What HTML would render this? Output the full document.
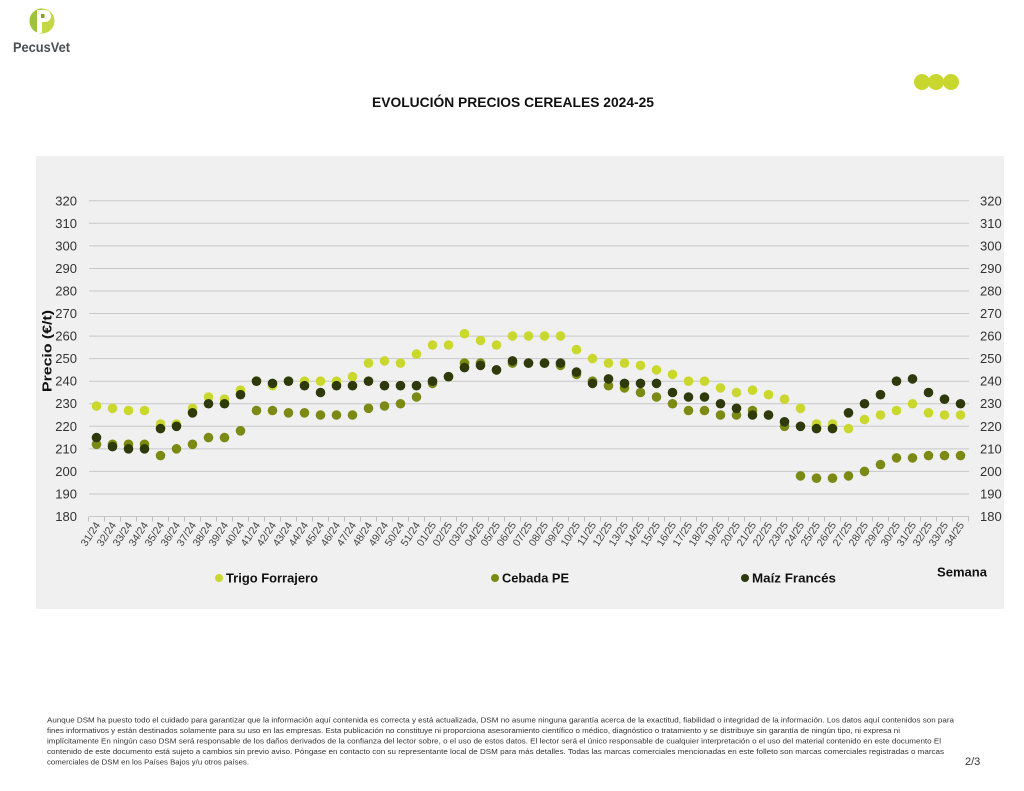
<!DOCTYPE html>
<html><head><meta charset="utf-8"><style>
html,body{margin:0;padding:0;background:#fff;}
svg{display:block;}
text{font-family:"Liberation Sans",sans-serif;}
</style></head><body>
<svg width="1024" height="791" viewBox="0 0 1024 791" xmlns="http://www.w3.org/2000/svg">
<rect x="0" y="0" width="1024" height="791" fill="#fff"/>
<!-- logo -->
<circle cx="42" cy="21" r="12.5" fill="#c3d843"/>
<path d="M42 8.5 A12.5 12.5 0 0 0 42 33.5 Z" fill="#9dc33a"/>
<rect x="37" y="10" width="5" height="23" fill="#fff"/>
<path d="M37 10 H45 A6 6 0 0 1 45 22 H37 Z" fill="#fff"/>
<rect x="41" y="14" width="3.5" height="4" fill="#7fa52a"/>
<text x="13" y="52" font-size="14" font-weight="bold" fill="#4a4f55" textLength="57" lengthAdjust="spacingAndGlyphs">PecusVet</text>
<!-- top right dots -->
<circle cx="922" cy="82" r="8" fill="#c9d62e"/>
<circle cx="936" cy="82" r="8" fill="#c9d62e"/>
<circle cx="951" cy="82" r="8" fill="#c9d62e"/>
<!-- title -->
<text x="372" y="107" font-size="13.5" font-weight="bold" fill="#111" textLength="282" lengthAdjust="spacingAndGlyphs">EVOLUCIÓN PRECIOS CEREALES 2024-25</text>
<!-- panel -->
<rect x="36" y="156" width="968" height="453" fill="#f0f0f0"/>
<!-- grid -->
<g stroke="#c8c8c8" stroke-width="1">
<line x1="89" y1="200.8" x2="969" y2="200.8"/>
<line x1="89" y1="223.3" x2="969" y2="223.3"/>
<line x1="89" y1="245.9" x2="969" y2="245.9"/>
<line x1="89" y1="268.5" x2="969" y2="268.5"/>
<line x1="89" y1="291.0" x2="969" y2="291.0"/>
<line x1="89" y1="313.5" x2="969" y2="313.5"/>
<line x1="89" y1="336.1" x2="969" y2="336.1"/>
<line x1="89" y1="358.6" x2="969" y2="358.6"/>
<line x1="89" y1="381.2" x2="969" y2="381.2"/>
<line x1="89" y1="403.75" x2="969" y2="403.75"/>
<line x1="89" y1="426.3" x2="969" y2="426.3"/>
<line x1="89" y1="448.85" x2="969" y2="448.85"/>
<line x1="89" y1="471.4" x2="969" y2="471.4"/>
<line x1="89" y1="494" x2="969" y2="494"/>
<line x1="89" y1="516.5" x2="969" y2="516.5"/>
</g>
<!-- ticks -->
<g stroke="#c0c0c0" stroke-width="1">
<path d="M88.5 516.5v5M104.5 516.5v5M120.5 516.5v5M136.5 516.5v5M152.5 516.5v5M168.5 516.5v5M184.5 516.5v5M200.5 516.5v5M216.5 516.5v5M232.5 516.5v5M248.5 516.5v5M264.5 516.5v5M280.5 516.5v5M296.5 516.5v5M312.5 516.5v5M328.5 516.5v5M344.5 516.5v5M360.5 516.5v5M376.5 516.5v5M392.5 516.5v5M408.5 516.5v5M424.5 516.5v5M440.5 516.5v5M456.5 516.5v5M472.5 516.5v5M488.5 516.5v5M504.5 516.5v5M520.5 516.5v5M536.5 516.5v5M552.5 516.5v5M568.5 516.5v5M584.5 516.5v5M600.5 516.5v5M616.5 516.5v5M632.5 516.5v5M648.5 516.5v5M664.5 516.5v5M680.5 516.5v5M696.5 516.5v5M712.5 516.5v5M728.5 516.5v5M744.5 516.5v5M760.5 516.5v5M776.5 516.5v5M792.5 516.5v5M808.5 516.5v5M824.5 516.5v5M840.5 516.5v5M856.5 516.5v5M872.5 516.5v5M888.5 516.5v5M904.5 516.5v5M920.5 516.5v5M936.5 516.5v5M952.5 516.5v5M968.5 516.5v5"/>
</g>
<!-- y labels left -->
<g font-size="13" fill="#333" text-anchor="end">
<text x="77" y="205.3">320</text>
<text x="77" y="227.8">310</text>
<text x="77" y="250.4">300</text>
<text x="77" y="273">290</text>
<text x="77" y="295.5">280</text>
<text x="77" y="318">270</text>
<text x="77" y="340.6">260</text>
<text x="77" y="363.1">250</text>
<text x="77" y="385.7">240</text>
<text x="77" y="408.2">230</text>
<text x="77" y="430.8">220</text>
<text x="77" y="453.3">210</text>
<text x="77" y="475.9">200</text>
<text x="77" y="498.5">190</text>
<text x="77" y="521">180</text>
</g>
<g font-size="13" fill="#333">
<text x="980" y="205.3">320</text>
<text x="980" y="227.8">310</text>
<text x="980" y="250.4">300</text>
<text x="980" y="273">290</text>
<text x="980" y="295.5">280</text>
<text x="980" y="318">270</text>
<text x="980" y="340.6">260</text>
<text x="980" y="363.1">250</text>
<text x="980" y="385.7">240</text>
<text x="980" y="408.2">230</text>
<text x="980" y="430.8">220</text>
<text x="980" y="453.3">210</text>
<text x="980" y="475.9">200</text>
<text x="980" y="498.5">190</text>
<text x="980" y="521">180</text>
</g>
<text transform="translate(51.5,351) rotate(-90)" font-size="13" font-weight="bold" fill="#111" text-anchor="middle" textLength="82" lengthAdjust="spacingAndGlyphs">Precio (€/t)</text>
<!-- x labels -->
<g font-size="10.5" fill="#444" text-anchor="end">
<text transform="translate(100.5,525) rotate(-57)">31/24</text>
<text transform="translate(116.5,525) rotate(-57)">32/24</text>
<text transform="translate(132.5,525) rotate(-57)">33/24</text>
<text transform="translate(148.5,525) rotate(-57)">34/24</text>
<text transform="translate(164.5,525) rotate(-57)">35/24</text>
<text transform="translate(180.5,525) rotate(-57)">36/24</text>
<text transform="translate(196.5,525) rotate(-57)">37/24</text>
<text transform="translate(212.5,525) rotate(-57)">38/24</text>
<text transform="translate(228.5,525) rotate(-57)">39/24</text>
<text transform="translate(244.5,525) rotate(-57)">40/24</text>
<text transform="translate(260.5,525) rotate(-57)">41/24</text>
<text transform="translate(276.5,525) rotate(-57)">42/24</text>
<text transform="translate(292.5,525) rotate(-57)">43/24</text>
<text transform="translate(308.5,525) rotate(-57)">44/24</text>
<text transform="translate(324.5,525) rotate(-57)">45/24</text>
<text transform="translate(340.5,525) rotate(-57)">46/24</text>
<text transform="translate(356.5,525) rotate(-57)">47/24</text>
<text transform="translate(372.5,525) rotate(-57)">48/24</text>
<text transform="translate(388.5,525) rotate(-57)">49/24</text>
<text transform="translate(404.5,525) rotate(-57)">50/24</text>
<text transform="translate(420.5,525) rotate(-57)">51/24</text>
<text transform="translate(436.5,525) rotate(-57)">01/25</text>
<text transform="translate(452.5,525) rotate(-57)">02/25</text>
<text transform="translate(468.5,525) rotate(-57)">03/25</text>
<text transform="translate(484.5,525) rotate(-57)">04/25</text>
<text transform="translate(500.5,525) rotate(-57)">05/25</text>
<text transform="translate(516.5,525) rotate(-57)">06/25</text>
<text transform="translate(532.5,525) rotate(-57)">07/25</text>
<text transform="translate(548.5,525) rotate(-57)">08/25</text>
<text transform="translate(564.5,525) rotate(-57)">09/25</text>
<text transform="translate(580.5,525) rotate(-57)">10/25</text>
<text transform="translate(596.5,525) rotate(-57)">11/25</text>
<text transform="translate(612.5,525) rotate(-57)">12/25</text>
<text transform="translate(628.5,525) rotate(-57)">13/25</text>
<text transform="translate(644.5,525) rotate(-57)">14/25</text>
<text transform="translate(660.5,525) rotate(-57)">15/25</text>
<text transform="translate(676.5,525) rotate(-57)">16/25</text>
<text transform="translate(692.5,525) rotate(-57)">17/25</text>
<text transform="translate(708.5,525) rotate(-57)">18/25</text>
<text transform="translate(724.5,525) rotate(-57)">19/25</text>
<text transform="translate(740.5,525) rotate(-57)">20/25</text>
<text transform="translate(756.5,525) rotate(-57)">21/25</text>
<text transform="translate(772.5,525) rotate(-57)">22/25</text>
<text transform="translate(788.5,525) rotate(-57)">23/25</text>
<text transform="translate(804.5,525) rotate(-57)">24/25</text>
<text transform="translate(820.5,525) rotate(-57)">25/25</text>
<text transform="translate(836.5,525) rotate(-57)">26/25</text>
<text transform="translate(852.5,525) rotate(-57)">27/25</text>
<text transform="translate(868.5,525) rotate(-57)">28/25</text>
<text transform="translate(884.5,525) rotate(-57)">29/25</text>
<text transform="translate(900.5,525) rotate(-57)">30/25</text>
<text transform="translate(916.5,525) rotate(-57)">31/25</text>
<text transform="translate(932.5,525) rotate(-57)">32/25</text>
<text transform="translate(948.5,525) rotate(-57)">33/25</text>
<text transform="translate(964.5,525) rotate(-57)">34/25</text>
</g>
<!-- Trigo Forrajero -->
<g fill="#c9d72f">
<circle cx="96.5" cy="406.0" r="4.8"/><circle cx="112.5" cy="408.3" r="4.8"/><circle cx="128.5" cy="410.5" r="4.8"/><circle cx="144.5" cy="410.5" r="4.8"/><circle cx="160.5" cy="424.0" r="4.8"/><circle cx="176.5" cy="424.0" r="4.8"/><circle cx="192.5" cy="408.3" r="4.8"/><circle cx="208.5" cy="397.0" r="4.8"/><circle cx="224.5" cy="399.2" r="4.8"/><circle cx="240.5" cy="390.2" r="4.8"/><circle cx="256.5" cy="381.2" r="4.8"/><circle cx="272.5" cy="385.7" r="4.8"/><circle cx="288.5" cy="381.2" r="4.8"/><circle cx="304.5" cy="381.2" r="4.8"/><circle cx="320.5" cy="381.2" r="4.8"/><circle cx="336.5" cy="381.2" r="4.8"/><circle cx="352.5" cy="376.7" r="4.8"/><circle cx="368.5" cy="363.1" r="4.8"/><circle cx="384.5" cy="360.9" r="4.8"/><circle cx="400.5" cy="363.1" r="4.8"/><circle cx="416.5" cy="354.1" r="4.8"/><circle cx="432.5" cy="345.0" r="4.8"/><circle cx="448.5" cy="345.0" r="4.8"/><circle cx="464.5" cy="333.7" r="4.8"/><circle cx="480.5" cy="340.5" r="4.8"/><circle cx="496.5" cy="345.0" r="4.8"/><circle cx="512.5" cy="336.0" r="4.8"/><circle cx="528.5" cy="336.0" r="4.8"/><circle cx="544.5" cy="336.0" r="4.8"/><circle cx="560.5" cy="336.0" r="4.8"/><circle cx="576.5" cy="349.6" r="4.8"/><circle cx="592.5" cy="358.6" r="4.8"/><circle cx="608.5" cy="363.1" r="4.8"/><circle cx="624.5" cy="363.1" r="4.8"/><circle cx="640.5" cy="365.4" r="4.8"/><circle cx="656.5" cy="369.9" r="4.8"/><circle cx="672.5" cy="374.4" r="4.8"/><circle cx="688.5" cy="381.2" r="4.8"/><circle cx="704.5" cy="381.2" r="4.8"/><circle cx="720.5" cy="387.9" r="4.8"/><circle cx="736.5" cy="392.5" r="4.8"/><circle cx="752.5" cy="390.2" r="4.8"/><circle cx="768.5" cy="394.7" r="4.8"/><circle cx="784.5" cy="399.2" r="4.8"/><circle cx="800.5" cy="408.3" r="4.8"/><circle cx="816.5" cy="424.0" r="4.8"/><circle cx="832.5" cy="424.0" r="4.8"/><circle cx="848.5" cy="428.6" r="4.8"/><circle cx="864.5" cy="419.5" r="4.8"/><circle cx="880.5" cy="415.0" r="4.8"/><circle cx="896.5" cy="410.5" r="4.8"/><circle cx="912.5" cy="403.75" r="4.8"/><circle cx="928.5" cy="412.8" r="4.8"/><circle cx="944.5" cy="415.0" r="4.8"/><circle cx="960.5" cy="415.0" r="4.8"/>
</g>
<!-- Cebada PE -->
<g fill="#7b8a12">
<circle cx="96.5" cy="444.3" r="4.8"/><circle cx="112.5" cy="444.3" r="4.8"/><circle cx="128.5" cy="444.3" r="4.8"/><circle cx="144.5" cy="444.3" r="4.8"/><circle cx="160.5" cy="455.6" r="4.8"/><circle cx="176.5" cy="448.85" r="4.8"/><circle cx="192.5" cy="444.3" r="4.8"/><circle cx="208.5" cy="437.6" r="4.8"/><circle cx="224.5" cy="437.6" r="4.8"/><circle cx="240.5" cy="430.8" r="4.8"/><circle cx="256.5" cy="410.5" r="4.8"/><circle cx="272.5" cy="410.5" r="4.8"/><circle cx="288.5" cy="412.8" r="4.8"/><circle cx="304.5" cy="412.8" r="4.8"/><circle cx="320.5" cy="415.0" r="4.8"/><circle cx="336.5" cy="415.0" r="4.8"/><circle cx="352.5" cy="415.0" r="4.8"/><circle cx="368.5" cy="408.3" r="4.8"/><circle cx="384.5" cy="406.0" r="4.8"/><circle cx="400.5" cy="403.75" r="4.8"/><circle cx="416.5" cy="397.0" r="4.8"/><circle cx="432.5" cy="383.4" r="4.8"/><circle cx="448.5" cy="376.7" r="4.8"/><circle cx="464.5" cy="363.1" r="4.8"/><circle cx="480.5" cy="363.1" r="4.8"/><circle cx="496.5" cy="369.9" r="4.8"/><circle cx="512.5" cy="363.1" r="4.8"/><circle cx="528.5" cy="363.1" r="4.8"/><circle cx="544.5" cy="363.1" r="4.8"/><circle cx="560.5" cy="365.4" r="4.8"/><circle cx="576.5" cy="374.4" r="4.8"/><circle cx="592.5" cy="381.2" r="4.8"/><circle cx="608.5" cy="385.7" r="4.8"/><circle cx="624.5" cy="387.9" r="4.8"/><circle cx="640.5" cy="392.5" r="4.8"/><circle cx="656.5" cy="397.0" r="4.8"/><circle cx="672.5" cy="403.75" r="4.8"/><circle cx="688.5" cy="410.5" r="4.8"/><circle cx="704.5" cy="410.5" r="4.8"/><circle cx="720.5" cy="415.0" r="4.8"/><circle cx="736.5" cy="415.0" r="4.8"/><circle cx="752.5" cy="410.5" r="4.8"/><circle cx="768.5" cy="415.0" r="4.8"/><circle cx="784.5" cy="426.3" r="4.8"/><circle cx="800.5" cy="475.9" r="4.8"/><circle cx="816.5" cy="478.2" r="4.8"/><circle cx="832.5" cy="478.2" r="4.8"/><circle cx="848.5" cy="475.9" r="4.8"/><circle cx="864.5" cy="471.4" r="4.8"/><circle cx="880.5" cy="464.6" r="4.8"/><circle cx="896.5" cy="457.9" r="4.8"/><circle cx="912.5" cy="457.9" r="4.8"/><circle cx="928.5" cy="455.6" r="4.8"/><circle cx="944.5" cy="455.6" r="4.8"/><circle cx="960.5" cy="455.6" r="4.8"/>
</g>
<!-- Maiz Frances -->
<g fill="#2e3a0c">
<circle cx="96.5" cy="437.6" r="4.8"/><circle cx="112.5" cy="446.6" r="4.8"/><circle cx="128.5" cy="448.85" r="4.8"/><circle cx="144.5" cy="448.85" r="4.8"/><circle cx="160.5" cy="428.6" r="4.8"/><circle cx="176.5" cy="426.3" r="4.8"/><circle cx="192.5" cy="412.8" r="4.8"/><circle cx="208.5" cy="403.75" r="4.8"/><circle cx="224.5" cy="403.75" r="4.8"/><circle cx="240.5" cy="394.7" r="4.8"/><circle cx="256.5" cy="381.2" r="4.8"/><circle cx="272.5" cy="383.4" r="4.8"/><circle cx="288.5" cy="381.2" r="4.8"/><circle cx="304.5" cy="385.7" r="4.8"/><circle cx="320.5" cy="392.5" r="4.8"/><circle cx="336.5" cy="385.7" r="4.8"/><circle cx="352.5" cy="385.7" r="4.8"/><circle cx="368.5" cy="381.2" r="4.8"/><circle cx="384.5" cy="385.7" r="4.8"/><circle cx="400.5" cy="385.7" r="4.8"/><circle cx="416.5" cy="385.7" r="4.8"/><circle cx="432.5" cy="381.2" r="4.8"/><circle cx="448.5" cy="376.7" r="4.8"/><circle cx="464.5" cy="367.6" r="4.8"/><circle cx="480.5" cy="365.4" r="4.8"/><circle cx="496.5" cy="369.9" r="4.8"/><circle cx="512.5" cy="360.9" r="4.8"/><circle cx="528.5" cy="363.1" r="4.8"/><circle cx="544.5" cy="363.1" r="4.8"/><circle cx="560.5" cy="363.1" r="4.8"/><circle cx="576.5" cy="372.1" r="4.8"/><circle cx="592.5" cy="383.4" r="4.8"/><circle cx="608.5" cy="378.9" r="4.8"/><circle cx="624.5" cy="383.4" r="4.8"/><circle cx="640.5" cy="383.4" r="4.8"/><circle cx="656.5" cy="383.4" r="4.8"/><circle cx="672.5" cy="392.5" r="4.8"/><circle cx="688.5" cy="397.0" r="4.8"/><circle cx="704.5" cy="397.0" r="4.8"/><circle cx="720.5" cy="403.75" r="4.8"/><circle cx="736.5" cy="408.3" r="4.8"/><circle cx="752.5" cy="415.0" r="4.8"/><circle cx="768.5" cy="415.0" r="4.8"/><circle cx="784.5" cy="421.8" r="4.8"/><circle cx="800.5" cy="426.3" r="4.8"/><circle cx="816.5" cy="428.6" r="4.8"/><circle cx="832.5" cy="428.6" r="4.8"/><circle cx="848.5" cy="412.8" r="4.8"/><circle cx="864.5" cy="403.75" r="4.8"/><circle cx="880.5" cy="394.7" r="4.8"/><circle cx="896.5" cy="381.2" r="4.8"/><circle cx="912.5" cy="378.9" r="4.8"/><circle cx="928.5" cy="392.5" r="4.8"/><circle cx="944.5" cy="399.2" r="4.8"/><circle cx="960.5" cy="403.75" r="4.8"/>
</g>
<!-- legend -->
<circle cx="219" cy="578" r="4" fill="#c9d72f"/>
<text x="226" y="582.5" font-size="13" font-weight="bold" fill="#111" textLength="92" lengthAdjust="spacingAndGlyphs">Trigo Forrajero</text>
<circle cx="495" cy="578" r="4" fill="#7b8a12"/>
<text x="502" y="582.5" font-size="13" font-weight="bold" fill="#111" textLength="67" lengthAdjust="spacingAndGlyphs">Cebada PE</text>
<circle cx="745" cy="578" r="4" fill="#2e3a0c"/>
<text x="752" y="582.5" font-size="13" font-weight="bold" fill="#111" textLength="84" lengthAdjust="spacingAndGlyphs">Maíz Francés</text>
<text x="937" y="576.5" font-size="13" font-weight="bold" fill="#111" textLength="50" lengthAdjust="spacingAndGlyphs">Semana</text>
<!-- footer -->
<g font-size="7.5" fill="#333">
<text x="47" y="722.5" textLength="907" lengthAdjust="spacingAndGlyphs">Aunque DSM ha puesto todo el cuidado para garantizar que la información aquí contenida es correcta y está actualizada, DSM no asume ninguna garantía acerca de la exactitud, fiabilidad o integridad de la información. Los datos aquí contenidos son para</text>
<text x="47" y="733" textLength="853" lengthAdjust="spacingAndGlyphs">fines informativos y están destinados solamente para su uso en las empresas. Esta publicación no constituye ni proporciona asesoramiento científico o médico, diagnóstico o tratamiento y se distribuye sin garantía de ningún tipo, ni expresa ni</text>
<text x="47" y="743.5" textLength="894" lengthAdjust="spacingAndGlyphs">implícitamente En ningún caso DSM será responsable de los daños derivados de la confianza del lector sobre, o el uso de estos datos. El lector será el único responsable de cualquier interpretación o el uso del material contenido en este documento El</text>
<text x="47" y="754" textLength="897" lengthAdjust="spacingAndGlyphs">contenido de este documento está sujeto a cambios sin previo aviso. Póngase en contacto con su representante local de DSM para más detalles. Todas las marcas comerciales mencionadas en este folleto son marcas comerciales registradas o marcas</text>
<text x="47" y="764.5" textLength="202" lengthAdjust="spacingAndGlyphs">comerciales de DSM en los Países Bajos y/u otros países.</text>
</g>
<text x="965" y="765" font-size="11" fill="#333">2/3</text>
</svg>
</body></html>
